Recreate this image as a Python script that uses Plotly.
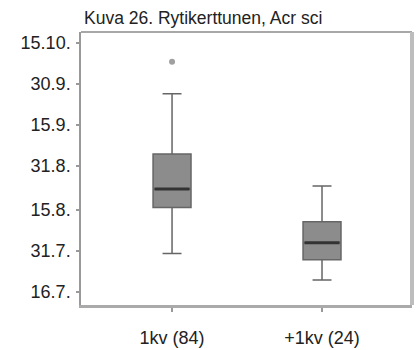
import plotly.graph_objects as go

# ---- data (y values are day-of-year) ----
categories = ["1kv (84)", "+1kv (24)"]
positions = [0, 1]
lower_whisker = [211.0, 201.3]
q1_values = [227.8, 208.7]
median_values = [234.6, 215.0]
q3_values = [247.4, 222.6]
upper_whisker = [269.4, 235.7]
outlier_pos = [0]
outlier_values = [281.1]

tick_days = [197, 212, 227, 243, 258, 273, 288]
tick_labels = ["16.7.", "31.7.", "15.8.", "31.8.", "15.9.", "30.9.", "15.10."]

title_text = "Kuva 26. Rytikerttunen, Acr sci"

FONT = "Liberation Sans, Arial, sans-serif"
BOX_W = 0.253

fig = go.Figure()

fig.add_trace(go.Box(
    x=positions,
    q1=q1_values,
    median=median_values,
    q3=q3_values,
    lowerfence=lower_whisker,
    upperfence=upper_whisker,
    width=BOX_W,
    whiskerwidth=0.5,
    fillcolor="#8c8c8c",
    line=dict(color="#666666", width=1.5),
    boxpoints=False,
    showlegend=False,
    hoverinfo="skip",
))

# thicker, darker median bars
for p, m in zip(positions, median_values):
    fig.add_trace(go.Scatter(
        x=[p - BOX_W / 2 + 0.01, p + BOX_W / 2 - 0.01],
        y=[m, m],
        mode="lines",
        line=dict(color="#333333", width=3),
        showlegend=False,
        hoverinfo="skip",
    ))

fig.add_trace(go.Scatter(
    x=outlier_pos,
    y=outlier_values,
    mode="markers",
    marker=dict(color="#a0a0a0", size=6),
    showlegend=False,
    hoverinfo="skip",
))

fig.update_layout(
    width=417,
    height=350,
    margin=dict(l=81, r=5, t=32, b=45),
    paper_bgcolor="white",
    plot_bgcolor="white",
    font=dict(family=FONT, size=18, color="#222222"),
    title=dict(
        text=title_text,
        xref="container", yref="container",
        x=84 / 417, xanchor="left",
        y=1 - 18 / 350, yanchor="middle",
        font=dict(family=FONT, size=17.5, color="#222222"),
    ),
    xaxis=dict(
        range=[-0.607, 1.6],
        tickmode="array",
        tickvals=positions,
        ticktext=categories,
        showgrid=False,
        zeroline=False,
        showline=True,
        linecolor="#aaaaaa",
        linewidth=3,
        ticks="outside",
        ticklen=4,
        tickcolor="#999999",
        tickwidth=1.5,
        ticklabelstandoff=10,
        automargin=False,
        tickfont=dict(family=FONT, size=18, color="#222222"),
    ),
    yaxis=dict(
        range=[192.2, 292.0],
        tickmode="array",
        tickvals=tick_days,
        ticktext=tick_labels,
        showgrid=False,
        zeroline=False,
        showline=True,
        linecolor="#999999",
        linewidth=1.5,
        ticks="outside",
        ticklen=3,
        tickcolor="#999999",
        tickwidth=1.5,
        ticklabelstandoff=2,
        automargin=False,
        tickfont=dict(family=FONT, size=18, color="#222222"),
    ),
    shapes=[
        dict(type="line", xref="paper", yref="paper", x0=0, x1=1, y0=1, y1=1,
             line=dict(color="#a8a8a8", width=2)),
        dict(type="line", xref="paper", yref="paper", x0=1, x1=1, y0=0, y1=1,
             line=dict(color="#bdbdbd", width=4)),
    ],
)

fig.write_html("out.html")
